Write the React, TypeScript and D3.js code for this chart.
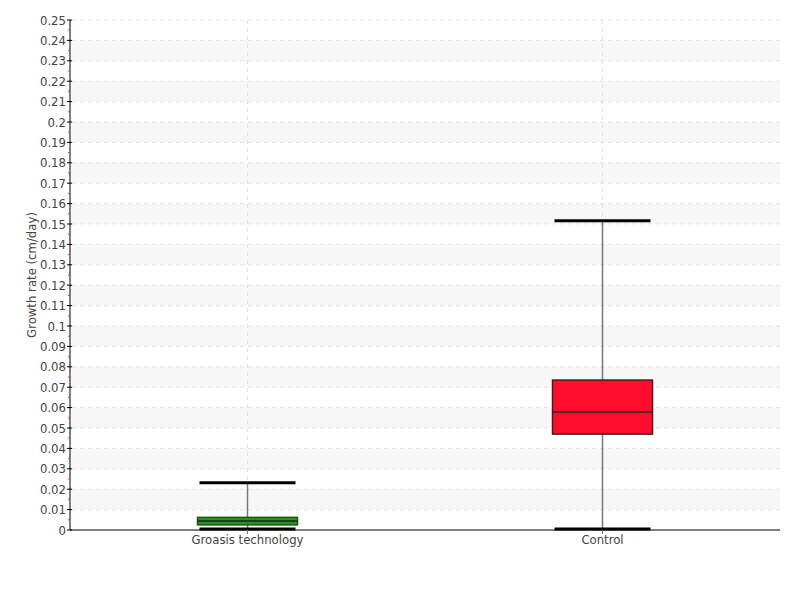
import React from "react";
import * as d3 from "d3";

const categories = ["Groasis technology", "Control"];
const whiskerLow = [0.0005, 0.0005];
const q1 = [0.0025, 0.047];
const median = [0.0044, 0.0578];
const q3 = [0.0062, 0.0735];
const whiskerHigh = [0.0232, 0.1516];
const fills = ["#22961a", "#ff0d2a"];
const strokes = ["#1d5a16", "#4a1a1a"];
const yTicks = d3.range(0, 26).map((i) => i / 100);
const yTitle = "Growth rate (cm/day)";

export default function App() {
  const W = 800, H = 600;
  const left = 70, right = 780, top = 20, bottom = 530;
  const y = d3.scaleLinear().domain([0, 0.25]).range([bottom, top]);
  const x = d3.scaleBand().domain(categories).range([left, right]);
  const font = "'DejaVu Sans Condensed', 'Liberation Sans Narrow', 'DejaVu Sans', sans-serif";
  const fmt = (v: number) => {
    const s = d3.format(".2~f")(v);
    return s;
  };
  const minor = d3.range(0, 25).map((i) => (i + 0.5) / 100);
  const boxW = 100;
  const capW = 96;
  return (
    <svg width={W} height={H} style={{ position: "absolute", left: 0, top: 0, background: "#fff" }}>
      {/* bands */}
      {yTicks.slice(0, -1).map((t, i) =>
        i % 2 === 1 ? (
          <rect key={"b" + i} x={left + 2} width={right - left - 2} y={y(t + 0.01)} height={y(t) - y(t + 0.01)} fill="#f7f7f7" />
        ) : null
      )}
      {/* horizontal grid */}
      {yTicks.slice(1).map((t, i) => (
        <line key={"g" + i} x1={left + 2} x2={right} y1={y(t)} y2={y(t)} stroke="#e2e2e2" strokeDasharray="4,4" strokeWidth={1} />
      ))}
      {/* vertical grid */}
      {categories.map((c) => (
        <line key={"v" + c} x1={x(c)! + x.bandwidth() / 2} x2={x(c)! + x.bandwidth() / 2} y1={top} y2={bottom} stroke="#e2e2e2" strokeDasharray="4,4" />
      ))}
      {/* boxes */}
      {categories.map((c, i) => {
        const cx = x(c)! + x.bandwidth() / 2;
        return (
          <g key={"box" + c}>
            <line x1={cx} x2={cx} y1={y(whiskerHigh[i])} y2={y(whiskerLow[i])} stroke="#777" strokeWidth={1.5} />
            <rect x={cx - boxW / 2} width={boxW} y={y(q3[i])} height={y(q1[i]) - y(q3[i])} fill={fills[i]} stroke={strokes[i]} strokeWidth={1.5} />
            <line x1={cx - boxW / 2} x2={cx + boxW / 2} y1={y(median[i])} y2={y(median[i])} stroke="#222" strokeWidth={1.5} />
            <line x1={cx - capW / 2} x2={cx + capW / 2} y1={y(whiskerHigh[i])} y2={y(whiskerHigh[i])} stroke="#000" strokeWidth={3} />
            <line x1={cx - capW / 2} x2={cx + capW / 2} y1={y(whiskerLow[i])} y2={y(whiskerLow[i])} stroke="#000" strokeWidth={3} />
          </g>
        );
      })}
      {/* axes */}
      <line x1={left} x2={left} y1={top} y2={bottom} stroke="#000" strokeWidth={1} />
      <line x1={left} x2={right} y1={bottom} y2={bottom} stroke="#000" strokeWidth={1} />
      {minor.map((t, i) => (
        <line key={"m" + i} x1={left - 2} x2={left} y1={y(t)} y2={y(t)} stroke="#e33" strokeWidth={1} />
      ))}
      {yTicks.map((t, i) => (
        <g key={"t" + i}>
          <line x1={left - 3} x2={left + 2} y1={y(t)} y2={y(t)} stroke="#000" />
          <text x={left - 4} y={y(t)} dy="0.35em" textAnchor="end" fontFamily={font} fontSize={13} fill="#444" style={{ fontStretch: "condensed" }}>
            {fmt(t)}
          </text>
        </g>
      ))}
      {categories.map((c) => (
        <g key={"xl" + c}>
          <line x1={x(c)! + x.bandwidth() / 2} x2={x(c)! + x.bandwidth() / 2} y1={bottom} y2={bottom + 4} stroke="#777" />
          <text x={x(c)! + x.bandwidth() / 2} y={bottom + 14} textAnchor="middle" fontFamily={font} fontSize={13} fill="#444" style={{ fontStretch: "condensed" }}>
            {c}
          </text>
        </g>
      ))}
      <text transform={`translate(36,${(top + bottom) / 2}) rotate(-90)`} textAnchor="middle" fontFamily={font} fontSize={13} fill="#444" style={{ fontStretch: "condensed" }}>
        {yTitle}
      </text>
    </svg>
  );
}
